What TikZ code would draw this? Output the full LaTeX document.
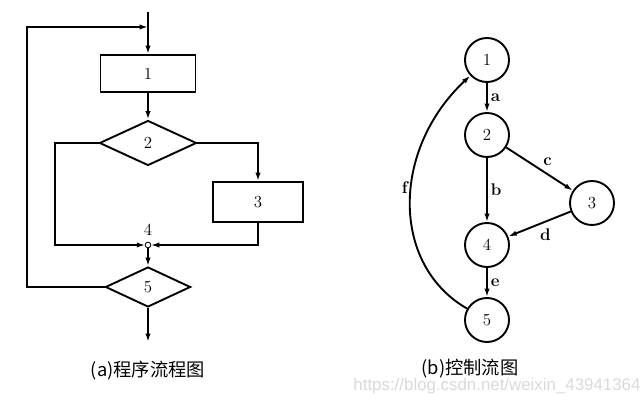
\documentclass[tikz,border=0pt]{standalone}
\usepackage{fontspec}
\newfontfamily\cjk{Noto Sans CJK SC}
\newfontfamily\wmfont{Liberation Sans}
\usetikzlibrary{shapes.geometric,arrows.meta}

\begin{document}
\begin{tikzpicture}[x=0.025cm,y=-0.025cm,>={Latex[length=6pt,width=3.8pt]},line width=1.35pt,
  box/.style={draw,rectangle,inner sep=0pt,font=\large},
  dia/.style={draw,diamond,inner sep=0pt,font=\large},
  vtx/.style={draw,circle,minimum size=1.1cm,inner sep=0pt,font=\large},
  lab/.style={font=\large\bfseries,inner sep=2pt},
  captxt/.style={font=\cjk\fontsize{13}{15}\selectfont}]
  \useasboundingbox (0,0) rectangle (640,400);
  % (a) flow chart
  \node[box,minimum width=2.375cm,minimum height=0.925cm] (b1) at (148,73.5) {1};
  \node[dia,minimum width=2.425cm,minimum height=1.125cm] (d2) at (148,143) {2};
  \node[box,minimum width=2.25cm,minimum height=1cm] (b3) at (258,202) {3};
  \node[dia,minimum width=2.125cm,minimum height=1cm] (d5) at (148,287) {5};
  \coordinate (j4) at (148,245);
  \coordinate (in) at (148,12);
  \coordinate (out) at (148,342);
  \coordinate (top) at (148,27);
  \coordinate (cl) at (55,245);
  \coordinate (cr) at (27,27);
  \draw[->] (in) -- (b1.north);
  \draw[->] (b1) -- (d2);
  \draw[->] (d2.east) -| (b3.north);
  \draw[->,shorten >=2pt] (d2.west) -| (cl) -- (j4);
  \draw[->,shorten >=2pt] (b3.south) |- (j4);
  \draw[->,shorten <=2pt] (j4) -- (d5.north);
  \draw[->] (d5.west) -| (cr) -- (top);
  \draw[->] (d5.south) -- (out);
  \draw[fill=white,line width=0.6pt] (j4) circle (2pt);
  \node[font=\large,above=3pt] (l4) at (j4) {4};
  \node[captxt] (ca) at (148,371) {(a)程序流程图};
  % (b) control flow graph
  \node[vtx] (v1) at (487,60) {1};
  \node[vtx] (v2) at (487,135) {2};
  \node[vtx] (v3) at (592,203) {3};
  \node[vtx] (v4) at (487,245) {4};
  \node[vtx] (v5) at (487,320) {5};
  \draw[->] (v1) -- node[lab,right]{a} (v2);
  \draw[->] (v2) -- node[lab,above right]{c} (v3);
  \draw[->] (v2) -- node[lab,right]{b} (v4);
  \draw[->] (v3) -- node[lab,below right,pos=0.55]{d} (v4);
  \draw[->] (v4) -- node[lab,right]{e} (v5);
  \draw[->] (v5) .. controls (391,265) and (391,150) .. node[lab,left,pos=0.56]{f} (v1);
  \node[captxt] (cb) at (470,369) {(b)控制流图};
  \node[gray!30,font=\wmfont\fontsize{12}{14}\selectfont] (wm) at (497,386) {https://blog.csdn.net/weixin\_43941364};
\end{tikzpicture}
\end{document}
